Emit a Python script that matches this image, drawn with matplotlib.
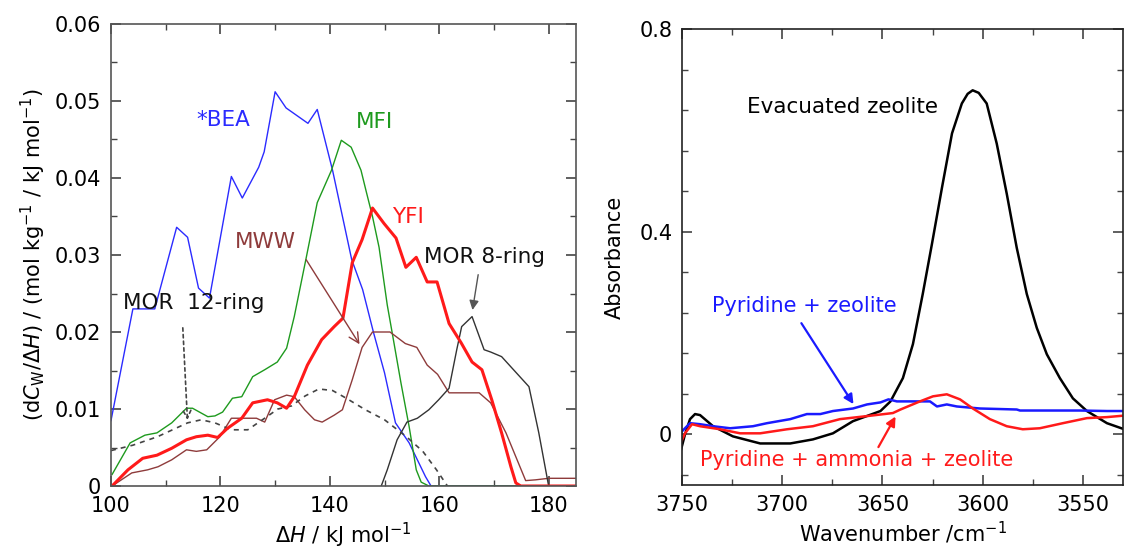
"""Adsorption-enthalpy distributions (left) and OH-stretch IR spectra (right)."""

import matplotlib

matplotlib.use("Agg")
import matplotlib.pyplot as plt
from matplotlib.ticker import MultipleLocator

plt.rcParams["font.family"] = ["DejaVu Sans"]
plt.rcParams["mathtext.fontset"] = "dejavusans"

# --- left panel: dC_W/dH distributions -------------------------------------
bea_h = [100, 104, 108, 112, 114, 116, 118, 122, 124, 127, 128, 130, 132, 136,
         137.7, 140.5, 144, 146, 148, 150, 152, 154.5, 157.5, 158.5, 185]
bea_c = [0.0085, 0.023, 0.023, 0.0336, 0.0323, 0.0257, 0.0244, 0.0402, 0.0374,
         0.0414, 0.0434, 0.0512, 0.0491, 0.0471, 0.0489, 0.041, 0.0294, 0.0255,
         0.0199, 0.0147, 0.0082, 0.0056, 0.0012, 0, 0]

mfi_h = [100.2, 103.5, 106.2, 108.4, 111.1, 113.8, 114.9, 117.7, 119, 120.4,
         122.2, 123.9, 125.9, 128.1, 130.4, 132.1, 133.5, 135.7, 137.7, 140.3,
         142.1, 143.9, 145.7, 146.6, 147.8, 149, 150.5, 151.4, 153, 154.5,
         155.8, 156.7, 158.1, 185]
mfi_c = [0.0015, 0.0056, 0.0066, 0.0069, 0.0082, 0.0101, 0.0101, 0.009, 0.0091,
         0.0096, 0.0114, 0.0116, 0.0142, 0.0151, 0.0161, 0.0179, 0.022, 0.0297,
         0.0368, 0.041, 0.0449, 0.044, 0.041, 0.0384, 0.035, 0.031, 0.0235,
         0.0199, 0.0134, 0.0077, 0.0021, 0.0005, 0, 0]

yfi_h = [100.2, 103.1, 105.8, 108.4, 111.1, 113.8, 115.6, 117.7, 119.5, 121.3,
         123.9, 125.9, 128.6, 130.4, 132.1, 133.5, 135.9, 138.5, 140.8, 142.4,
         144.1, 145.9, 147.8, 149.9, 152.1, 153.9, 155.8, 157.8, 159.6, 161.8,
         164, 166, 167.8, 169.6, 171.4, 173.1, 174, 174.9, 185]
yfi_c = [0, 0.0021, 0.0036, 0.004, 0.0049, 0.006, 0.0064, 0.0066, 0.0063, 0.0075,
         0.0088, 0.0108, 0.0112, 0.0108, 0.0101, 0.0116, 0.0157, 0.019, 0.0207,
         0.0218, 0.029, 0.032, 0.0361, 0.0341, 0.0322, 0.0284, 0.0297, 0.0265,
         0.0265, 0.0211, 0.0186, 0.0161, 0.0151, 0.0112, 0.0069, 0.0025, 0.0004,
         0, 0]

mww_h = [100.2, 103.8, 106.7, 108.6, 111.1, 113.8, 115.6, 117.5, 119.9, 122,
         124.4, 126.6, 128.1, 129.9, 132.1, 133.5, 135.4, 137.2, 138.6, 140.8,
         142.3, 144.1, 145.9, 147.8, 151, 153.8, 155.9, 157.8, 159.7, 161.8,
         167.3, 169.4, 172.2, 174, 175.8, 177.6, 180, 185]
mww_c = [0, 0.0017, 0.0021, 0.0025, 0.0034, 0.0047, 0.0045, 0.0047, 0.0064,
         0.0088, 0.0088, 0.0088, 0.0083, 0.0112, 0.0118, 0.0116, 0.0099, 0.0086,
         0.0083, 0.0092, 0.0099, 0.0138, 0.018, 0.02, 0.02, 0.0185, 0.018,
         0.0157, 0.0145, 0.0121, 0.0121, 0.0108, 0.0069, 0.0038, 0.0007, 0.0008,
         0.001, 0.001]

mor8_h = [149.4, 150.5, 152.3, 154.1, 156, 158.1, 159.9, 161.8, 163.2, 164.1,
          166, 168.2, 169.4, 171.4, 176.4, 178.2, 180, 185]
mor8_c = [0, 0.0021, 0.006, 0.0083, 0.0088, 0.0099, 0.0112, 0.0127, 0.0177,
          0.0207, 0.022, 0.0177, 0.0174, 0.0168, 0.0129, 0.0069, 0, 0]

mor12_h = [100, 104, 108.5, 114, 116.5, 119, 122, 125, 128.5, 130.5, 133, 135.5,
           138, 140.5, 143, 146.5, 150, 154, 157, 159.5, 161.5]
mor12_c = [0.0046, 0.0053, 0.0064, 0.0082, 0.0086, 0.0082, 0.0073, 0.0073,
           0.009, 0.01, 0.0104, 0.0117, 0.0126, 0.0124, 0.0114, 0.0099, 0.0086,
           0.0064, 0.0045, 0.0021, 0]

# --- right panel: IR spectra ------------------------------------------------
evac_wn = [3751, 3748.5, 3746, 3743.5, 3741, 3734.5, 3724.6, 3711, 3696, 3684.7,
           3674.7, 3664.7, 3651, 3646, 3639.8, 3634.8, 3629.9, 3625.3, 3620.3,
           3615.3, 3610.4, 3607.5, 3605, 3602, 3598, 3593, 3588, 3583, 3578,
           3573, 3568, 3561.5, 3555, 3548, 3538, 3526.5]
evac_abs = [-0.038, 0.0, 0.03, 0.04, 0.038, 0.016, -0.004, -0.018, -0.018, -0.01,
            0.002, 0.026, 0.046, 0.065, 0.111, 0.178, 0.277, 0.376, 0.487,
            0.594, 0.653, 0.672, 0.679, 0.674, 0.653, 0.574, 0.475, 0.368,
            0.277, 0.21, 0.158, 0.111, 0.071, 0.046, 0.022, 0.006]

pyr_wn = [3751, 3748.5, 3746, 3741, 3734.5, 3726, 3714.6, 3707.6, 3696, 3687.7,
          3681, 3674.7, 3664.7, 3657.7, 3651, 3647, 3642.8, 3626.3, 3622.8,
          3617.9, 3612.9, 3601.4, 3583, 3581.4, 3551.5, 3538, 3526.5]
pyr_abs = [0.002, 0.012, 0.022, 0.02, 0.016, 0.012, 0.016, 0.022, 0.03, 0.04,
           0.04, 0.046, 0.051, 0.059, 0.063, 0.069, 0.065, 0.065, 0.055, 0.059,
           0.055, 0.051, 0.049, 0.047, 0.047, 0.046, 0.046]

pyr_nh3_wn = [3751, 3748.5, 3745, 3741, 3731, 3721, 3711, 3697.6, 3684.7, 3671.2,
              3657.7, 3644.8, 3641, 3631.3, 3624.8, 3617.9, 3611.3, 3604.9,
              3596.4, 3588, 3580, 3571.5, 3560, 3548, 3538, 3526.5]
pyr_nh3_abs = [-0.02, 0.002, 0.02, 0.016, 0.01, 0.002, 0.002, 0.01, 0.016, 0.03,
               0.036, 0.042, 0.049, 0.065, 0.075, 0.079, 0.069, 0.051, 0.03,
               0.016, 0.01, 0.012, 0.022, 0.032, 0.034, 0.038]

W, H = 1130, 556
fig = plt.figure(figsize=(W / 100, H / 100), dpi=100)
ax1 = fig.add_axes([111 / W, (H - 486) / H, 465 / W, 462 / H])
ax2 = fig.add_axes([682 / W, (H - 485) / H, 441 / W, 456 / H])

# left panel
ax1.plot(bea_h, bea_c, color="#2b2bff", lw=1.0)
ax1.plot(mfi_h, mfi_c, color="#1e9a1e", lw=1.0)
ax1.plot(mww_h, mww_c, color="#8e3b3b", lw=1.0)
ax1.plot(mor8_h, mor8_c, color="#333333", lw=1.0)
ax1.plot(mor12_h, mor12_c, color="#444444", lw=1.2, ls=(0, (3, 3)))
ax1.plot(yfi_h, yfi_c, color="#ff1a1a", lw=2.2)

ax1.set_xlim(100, 185)
ax1.set_ylim(0, 0.06)
ax1.xaxis.set_major_locator(MultipleLocator(20))
ax1.xaxis.set_minor_locator(MultipleLocator(10))
ax1.yaxis.set_major_locator(MultipleLocator(0.01))
ax1.yaxis.set_minor_locator(MultipleLocator(0.005))
ax1.yaxis.set_major_formatter(
    plt.FuncFormatter(lambda v, p: "0" if abs(v) < 1e-9 else f"{v:.2f}"))
ax1.set_xlabel(r"$\Delta H$ / kJ mol$^{-1}$", fontsize=15, labelpad=4)
ax1.set_ylabel(r"(d$C_\mathrm{W}$/$\Delta H$) / (mol kg$^{-1}$ / kJ mol$^{-1}$)",
               fontsize=15, labelpad=5)
for s in ax1.spines.values():
    s.set_color("#555555")
    s.set_linewidth(1.2)

ax1.text(115.7, 0.0475, "*BEA", color="#2b2bff", fontsize=15.5, va="center")
ax1.text(144.8, 0.0473, "MFI", color="#1e9a1e", fontsize=15.5, va="center")
ax1.text(151.4, 0.0349, "YFI", color="#ff1a1a", fontsize=15.5, va="center")
ax1.text(122.6, 0.0317, "MWW", color="#8e3b3b", fontsize=15.5, va="center")
ax1.text(157.2, 0.0297, "MOR 8-ring", color="#111111", fontsize=15.5,
         va="center")
ax1.text(102.2, 0.0238, "MOR  12-ring", color="#111111", fontsize=15.5,
         va="center")

ax1.annotate("", xy=(145.7, 0.0181), xytext=(135.4, 0.0297),
             arrowprops=dict(arrowstyle="->", color="#8e3b3b", lw=1.0,
                             mutation_scale=18))
ax1.annotate("", xy=(166.0, 0.0225), xytext=(167.2, 0.0278),
             arrowprops=dict(arrowstyle="-|>", color="#555555", lw=1.0,
                             mutation_scale=14))
ax1.annotate("", xy=(114.0, 0.0082), xytext=(113.1, 0.0209),
             arrowprops=dict(arrowstyle="->", color="#444444", lw=1.2,
                             ls=(0, (2, 2)), mutation_scale=14))

# right panel
ax2.plot(evac_wn, evac_abs, color="black", lw=1.8)
ax2.plot(pyr_wn, pyr_abs, color="#1a1aff", lw=1.8)
ax2.plot(pyr_nh3_wn, pyr_nh3_abs, color="#ff1a1a", lw=1.8)

ax2.set_xlim(3750, 3530)
ax2.set_ylim(-0.1, 0.8)
ax2.xaxis.set_major_locator(MultipleLocator(50))
ax2.xaxis.set_minor_locator(MultipleLocator(25))
ax2.yaxis.set_major_locator(MultipleLocator(0.4))
ax2.yaxis.set_minor_locator(MultipleLocator(0.08))
ax2.yaxis.set_major_formatter(
    plt.FuncFormatter(lambda v, p: "0" if abs(v) < 1e-9 else f"{v:.1f}"))
ax2.set_xlabel(r"Wavenumber /cm$^{-1}$", fontsize=15, labelpad=4)
ax2.set_ylabel("Absorbance", fontsize=15, labelpad=10)
for s in ax2.spines.values():
    s.set_color("#222222")
    s.set_linewidth(1.2)

ax2.text(3717.6, 0.646, "Evacuated zeolite", color="black", fontsize=15.5,
         va="center")
ax2.text(3735, 0.253, "Pyridine + zeolite", color="#1a1aff", fontsize=15,
         va="center")
ax2.text(3741, -0.05, "Pyridine + ammonia + zeolite", color="#ff1a1a",
         fontsize=15, va="center")
ax2.annotate("", xy=(3663.7, 0.055), xytext=(3691.2, 0.224),
             arrowprops=dict(arrowstyle="-|>", color="#1a1aff", lw=1.6,
                             mutation_scale=14))
ax2.annotate("", xy=(3642.8, 0.040), xytext=(3652.7, -0.030),
             arrowprops=dict(arrowstyle="-|>", color="#ff1a1a", lw=1.6,
                             mutation_scale=14))

for ax in (ax1, ax2):
    ax.tick_params(which="both", direction="in", top=True, right=True,
                   labelsize=15, color="#444444")
    ax.tick_params(which="major", length=7, width=1.2, pad=7)
    ax.tick_params(which="minor", length=4, width=1.0)

fig.savefig("out.png", dpi=100)
